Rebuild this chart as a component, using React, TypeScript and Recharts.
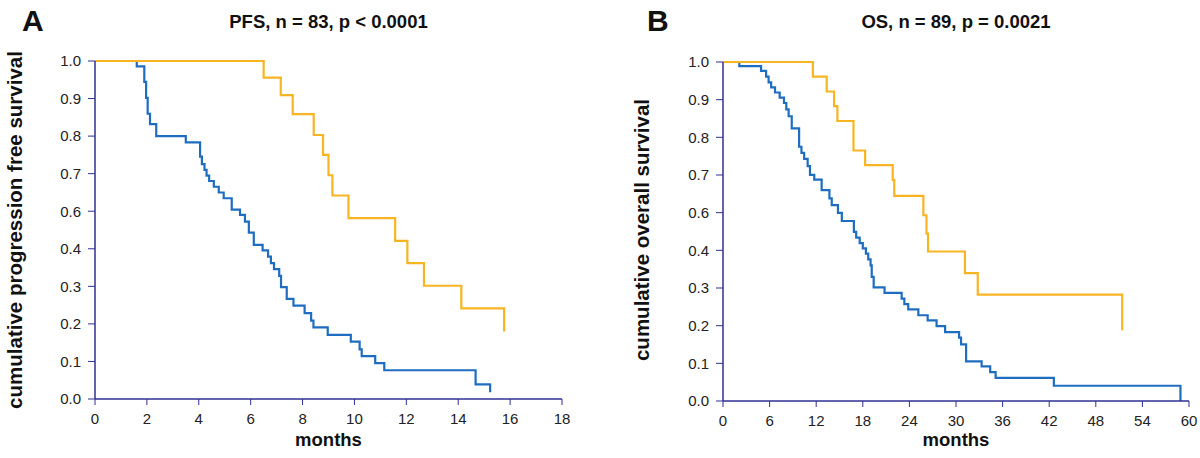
import React from "react";
import { LineChart, Line, XAxis, YAxis } from "recharts";

// Kaplan-Meier curves: time in months, cumulative survival.
const pfsLowT = [0, 1.61, 1.9, 1.97, 2.03, 2.12, 2.36, 3.5, 4.05, 4.12, 4.22, 4.3, 4.4, 4.58, 4.77, 4.96, 5.27, 5.59, 5.78, 5.93, 6.12, 6.46, 6.67, 6.78, 6.9, 7.1, 7.17, 7.39, 7.65, 8.08, 8.33, 8.42, 8.97, 9.86, 10.2, 10.28, 10.8, 11.15, 14.67, 15.23];
const pfsLowS = [1, 0.984, 0.938, 0.891, 0.844, 0.813, 0.778, 0.759, 0.717, 0.695, 0.678, 0.661, 0.645, 0.628, 0.611, 0.594, 0.56, 0.545, 0.525, 0.492, 0.456, 0.44, 0.421, 0.402, 0.384, 0.364, 0.331, 0.296, 0.276, 0.254, 0.232, 0.212, 0.19, 0.17, 0.147, 0.127, 0.106, 0.085, 0.043, 0.02];
const pfsHighT = [0, 6.5, 7.16, 7.62, 8.43, 8.79, 9.0, 9.15, 9.77, 11.57, 12.04, 12.68, 14.12, 15.77];
const pfsHighS = [1, 0.951, 0.899, 0.843, 0.781, 0.722, 0.662, 0.602, 0.535, 0.468, 0.402, 0.335, 0.268, 0.2];

const osLowT = [0, 2.1, 4.9, 5.55, 5.87, 6.2, 6.7, 7.3, 7.85, 8.15, 8.45, 8.85, 9.8, 10.1, 10.45, 10.9, 11.2, 11.75, 12.7, 13.7, 14.0, 14.8, 15.3, 16.85, 17.15, 17.6, 18.0, 18.4, 18.7, 19.0, 19.15, 19.4, 20.8, 23.0, 23.35, 23.85, 25.15, 26.35, 27.5, 28.6, 30.4, 30.65, 31.3, 33.3, 34.4, 35.1, 42.6, 58.9];
const osLowS = [1, 0.988, 0.974, 0.957, 0.94, 0.925, 0.91, 0.895, 0.879, 0.86, 0.84, 0.804, 0.75, 0.732, 0.714, 0.693, 0.667, 0.653, 0.622, 0.598, 0.578, 0.555, 0.531, 0.499, 0.482, 0.466, 0.45, 0.435, 0.418, 0.4, 0.366, 0.335, 0.319, 0.302, 0.286, 0.27, 0.253, 0.238, 0.221, 0.203, 0.187, 0.167, 0.117, 0.102, 0.085, 0.068, 0.045, 0];
const osHighT = [0, 11.57, 13.35, 14.3, 14.73, 16.8, 18.3, 21.85, 22.05, 25.8, 26.2, 26.4, 31.15, 32.8, 51.4];
const osHighS = [1, 0.957, 0.913, 0.87, 0.826, 0.739, 0.696, 0.652, 0.605, 0.548, 0.494, 0.441, 0.377, 0.314, 0.209];

// the y axis has ten evenly spaced ticks, labels rounded to one decimal
const yTicks = [0, 0.1111, 0.2222, 0.3333, 0.4444, 0.5556, 0.6667, 0.7778, 0.8889, 1];
const yTickLabels = ["0.0", "0.1", "0.2", "0.3", "0.4", "0.6", "0.7", "0.8", "0.9", "1.0"];
const pfsXTicks = [0, 2, 4, 6, 8, 10, 12, 14, 16, 18];
const osXTicks = [0, 6, 12, 18, 24, 30, 36, 42, 48, 54, 60];

const FONT = "'Liberation Sans', Arial, Helvetica, sans-serif";
const AXIS = "#2e3192";
const BLUE = "#1f6dc1";
const GOLD = "#f7b523";

const toRows = (t: number[], s: number[]) => t.map((v, i) => ({ t: v, s: s[i] }));

function KmChart({
  low,
  high,
  xTicks,
  yAxisWidth,
  margin,
  xHeight,
}: {
  low: { t: number; s: number }[];
  high: { t: number; s: number }[];
  xTicks: number[];
  yAxisWidth: number;
  margin: { top: number; right: number; bottom: number; left: number };
  xHeight: number;
}) {
  const tickStyle = { fill: "#222", fontSize: 15, fontFamily: FONT };
  return (
    <LineChart width={600} height={458} margin={margin}>
      <XAxis
        dataKey="t"
        type="number"
        domain={[xTicks[0], xTicks[xTicks.length - 1]]}
        ticks={xTicks}
        interval={0}
        height={xHeight}
        tick={tickStyle}
        tickSize={6}
        tickMargin={8}
        axisLine={{ stroke: AXIS, strokeWidth: 1.5 }}
        tickLine={{ stroke: AXIS }}
      />
      <YAxis
        type="number"
        domain={[0, 1]}
        ticks={yTicks}
        interval={0}
        width={yAxisWidth}
        tick={tickStyle}
        tickSize={7}
        tickMargin={7}
        tickFormatter={(_v, i) => yTickLabels[i]}
        axisLine={{ stroke: AXIS, strokeWidth: 1.5 }}
        tickLine={{ stroke: AXIS }}
      />
      <Line data={low} dataKey="s" type="stepAfter" stroke={BLUE} strokeWidth={2.2} dot={false} isAnimationActive={false} />
      <Line data={high} dataKey="s" type="stepAfter" stroke={GOLD} strokeWidth={2.2} dot={false} isAnimationActive={false} />
    </LineChart>
  );
}

const abs = (style: React.CSSProperties): React.CSSProperties => ({ position: "absolute", ...style });

function Texts({ letter, letterX, title, centerX, yLabel, yLabelX }: any) {
  return (
    <>
      <div style={abs({ left: letterX, top: 6, fontSize: 30, fontWeight: 700, lineHeight: "30px" })}>{letter}</div>
      <div style={abs({ left: centerX - 200, width: 400, top: 12.5, textAlign: "center", fontSize: 18.5, fontWeight: 700, lineHeight: 1 })}>
        {title}
      </div>
      <div style={abs({ left: centerX - 100, width: 200, top: 431, textAlign: "center", fontSize: 18.5, fontWeight: 700, lineHeight: 1 })}>
        months
      </div>
      <div
        style={abs({
          left: yLabelX - 210,
          top: 230 - 12,
          width: 420,
          height: 24,
          lineHeight: "24px",
          textAlign: "center",
          fontSize: 20.5,
          fontWeight: 700,
          transform: "rotate(-90deg)",
          whiteSpace: "nowrap",
        })}
      >
        {yLabel}
      </div>
    </>
  );
}

export default function App() {
  return (
    <div style={abs({ left: 0, top: 0, width: 1200, height: 458, background: "#fff", fontFamily: FONT, color: "#111", overflow: "hidden" })}>
      <div style={abs({ left: 0, top: 0 })}>
        <KmChart
          low={toRows(pfsLowT, pfsLowS)}
          high={toRows(pfsHighT, pfsHighS)}
          xTicks={pfsXTicks}
          yAxisWidth={95}
          margin={{ top: 61, right: 38, bottom: 0, left: 0 }}
          xHeight={59}
        />
      </div>
      <div style={abs({ left: 600, top: 0 })}>
        <KmChart
          low={toRows(osLowT, osLowS)}
          high={toRows(osHighT, osHighS)}
          xTicks={osXTicks}
          yAxisWidth={123}
          margin={{ top: 62, right: 11, bottom: 0, left: 0 }}
          xHeight={57}
        />
      </div>
      <Texts letter="A" letterX={22} title="PFS, n = 83, p < 0.0001" centerX={328.5} yLabel="cumulative progression free survival" yLabelX={15} />
      <Texts letter="B" letterX={647} title="OS, n = 89, p = 0.0021" centerX={956} yLabel="cumulative overall survival" yLabelX={642} />
    </div>
  );
}
